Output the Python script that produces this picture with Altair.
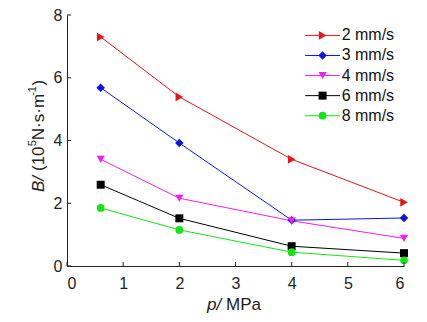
import altair as alt
import pandas as pd

p_vals = [0.6, 2, 4, 6]
series_names = ["2 mm/s", "3 mm/s", "4 mm/s", "6 mm/s", "8 mm/s"]
b_2 = [7.30, 5.39, 3.40, 2.03]
b_3 = [5.68, 3.92, 1.46, 1.53]
b_4 = [3.40, 2.16, 1.44, 0.88]
b_6 = [2.59, 1.52, 0.63, 0.41]
b_8 = [1.85, 1.15, 0.44, 0.18]
colors = ["#E8141A", "#0A14E6", "#F01EF0", "#000000", "#14E614"]
shapes = ["triangle-right", "diamond", "triangle-down", "square", "circle"]
sizes = [75, 60, 70, 50, 60]
x_ticks = [0, 1, 2, 3, 4, 5, 6]
y_ticks = [0, 2, 4, 6, 8]

W, H = 337, 251
FONT = "Liberation Sans"

rows = []
for name, vals in zip(series_names, [b_2, b_3, b_4, b_6, b_8]):
    for p, b in zip(p_vals, vals):
        rows.append({"p": p, "B": b, "s": name})
df = pd.DataFrame(rows)

xs = alt.Scale(domain=[0, 6], nice=False)
ys = alt.Scale(domain=[0, 8], nice=False)
col = alt.Scale(domain=series_names, range=colors)
shp = alt.Scale(domain=series_names, range=shapes)
szs = alt.Scale(domain=series_names, range=sizes)

X = alt.X("p:Q", scale=xs, axis=alt.Axis(values=x_ticks, title=None, grid=False, ticks=False,
          labelFontSize=16, labelFont=FONT, labelColor="#222", labelPadding=9,
          domainColor="#222", format="d"))
Y = alt.Y("B:Q", scale=ys, axis=alt.Axis(values=y_ticks, title=None, grid=False, ticks=False,
          labelFontSize=16, labelFont=FONT, labelColor="#222", labelPadding=5,
          domainColor="#222", format="d"))

base = alt.Chart(df)
lines = base.mark_line(strokeWidth=1).encode(
    x=X, y=Y, color=alt.Color("s:N", scale=col, legend=None), detail="s:N")
points = base.mark_point(filled=True, opacity=1).encode(
    x="p:Q", y="B:Q",
    color=alt.Color("s:N", scale=col, legend=None),
    shape=alt.Shape("s:N", scale=shp, legend=None),
    size=alt.Size("s:N", scale=szs, legend=None))

# inward ticks
xt = pd.DataFrame({"p": x_ticks})
xtick = alt.Chart(xt).mark_rule(color="#222", strokeWidth=1).encode(
    x="p:Q", y=alt.value(H), y2=alt.value(H - 4))
yt = pd.DataFrame({"B": y_ticks})
ytick = alt.Chart(yt).mark_rule(color="#222", strokeWidth=1).encode(
    y="B:Q", x=alt.value(0), x2=alt.value(4))

# legend (in data coordinates)
leg_y = [7.35, 6.71, 6.07, 5.43, 4.79]
leg = pd.DataFrame({"s": series_names, "y": leg_y,
                    "x1": [4.24] * 5, "x2": [4.86] * 5, "xm": [4.55] * 5, "xt": [4.89] * 5})
lc = alt.Chart(leg)
leg_lines = lc.mark_rule(strokeWidth=1).encode(
    x="x1:Q", x2="x2:Q", y="y:Q", color=alt.Color("s:N", scale=col, legend=None))
leg_pts = lc.mark_point(filled=True, opacity=1).encode(
    x="xm:Q", y="y:Q", color=alt.Color("s:N", scale=col, legend=None),
    shape=alt.Shape("s:N", scale=shp, legend=None),
    size=alt.Size("s:N", scale=szs, legend=None))
leg_txt = lc.mark_text(align="left", baseline="middle", fontSize=16, font=FONT, color="#111").encode(
    x="xt:Q", y="y:Q", text="s:N")


def txt(t, x, y, size=17, italic=False, angle=0):
    kw = dict(align="left", baseline="middle", fontSize=size, font=FONT, color="#222")
    if italic:
        kw["fontStyle"] = "italic"
    if angle:
        kw["angle"] = angle
    return alt.Chart(pd.DataFrame({"t": [t]})).mark_text(**kw).encode(
        x=alt.value(x), y=alt.value(y), text="t:N")


# y title pieces (rotated)
YX = -28
ytitle = [
    txt("B/", YX, 177, italic=True, angle=270),
    txt("(10", YX, 156.0, angle=270),
    txt("5", YX - 6, 131.3, size=11, angle=270),
    txt("N·s·m", YX, 125.2, angle=270),
    txt("-1", YX - 6, 80.8, size=11, angle=270),
    txt(")", YX, 70.5, angle=270),
]
xtitle = [
    txt("p/", 140, 290, italic=True),
    txt("MPa", 159, 290),
]

chart = alt.layer(
    lines, points, xtick, ytick, leg_lines, leg_pts, leg_txt, *ytitle, *xtitle
).properties(
    width=W, height=H,
    autosize=alt.AutoSizeParams(type="none"),
    padding={"left": 67, "top": 15, "right": 23, "bottom": 56},
    background="white",
).configure_view(stroke=None)

chart.save("out.html", embed_options={"renderer": "svg", "actions": False})
